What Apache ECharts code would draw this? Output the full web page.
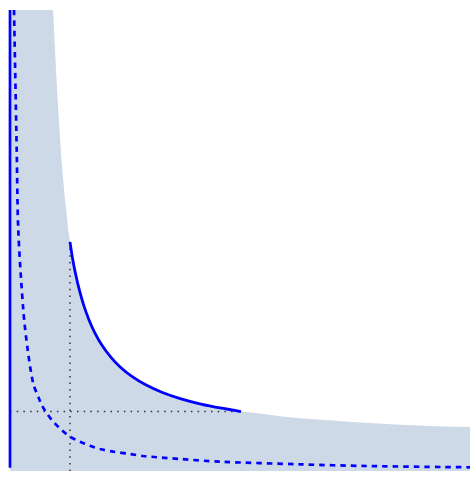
<!DOCTYPE html>
<html>
<head>
<meta charset="utf-8">
<script src="https://cdn.jsdelivr.net/npm/echarts@6/dist/echarts.min.js"></script>
<style>
  html, body { margin: 0; padding: 0; background: #fff; }
  #chart { width: 476px; height: 479px; }
</style>
</head>
<body>
<div id="chart"></div>
<script>
// upper boundary of the shaded region
const shadeX = [0, 0.935, 0.957, 0.989, 1.037, 1.080, 1.124, 1.196, 1.267, 1.304, 1.36, 1.42, 1.5, 1.6, 1.72, 1.85, 2.0, 2.2, 2.4, 2.65, 2.95, 3.3, 3.7, 4.15, 4.6, 5.022, 5.435, 5.870, 6.304, 7.609, 8.370, 9.413, 10];
const shadeY = [10, 10, 9.566, 8.915, 8.048, 7.332, 6.681, 5.879, 5.228, 4.97, 4.61, 4.30, 3.955, 3.605, 3.272, 2.987, 2.727, 2.459, 2.252, 2.052, 1.869, 1.709, 1.571, 1.453, 1.362, 1.29, 1.245, 1.185, 1.146, 1.052, 1.008, 0.965, 0.955];

// solid curve segment
const solidX = [1.304, 1.36, 1.42, 1.5, 1.6, 1.72, 1.85, 2.0, 2.2, 2.4, 2.65, 2.95, 3.3, 3.7, 4.15, 4.6, 5.022];
const solidY = [4.97, 4.61, 4.30, 3.955, 3.605, 3.272, 2.987, 2.727, 2.459, 2.252, 2.052, 1.869, 1.709, 1.571, 1.453, 1.362, 1.29];

// dashed curve
const dashX = [0.087, 0.146, 0.180, 0.289, 0.385, 0.507, 0.615, 0.689, 0.798, 0.941, 1.124, 1.304, 1.522, 1.739, 1.957, 2.246, 2.609, 2.898, 3.696, 4.565, 6.304, 7.739, 10];
const dashY = [10, 6.963, 5.228, 3.492, 2.625, 1.887, 1.612, 1.432, 1.252, 1.069, 0.889, 0.744, 0.636, 0.549, 0.477, 0.419, 0.369, 0.325, 0.260, 0.202, 0.145, 0.108, 0.080];

// dotted guide lines through the ends of the solid segment
const guideX = 1.304;
const guideTopY = 4.97;
const guideY = 1.29;
const guideRightX = 5.022;

const blue = '#0000ff';
const pairs = (xs, ys) => xs.map((x, i) => [x, ys[i]]);

const chart = echarts.init(document.getElementById('chart'));

const dotted = { color: '#333', width: 1.5, type: [1.5, 5.2] };

const option = {
  animation: false,
  backgroundColor: '#ffffff',
  grid: { left: 10, right: 6, top: 10, bottom: 8 },
  xAxis: {
    type: 'value', min: 0, max: 10,
    axisLine: { show: false }, axisTick: { show: false },
    axisLabel: { show: false }, splitLine: { show: false }
  },
  yAxis: {
    type: 'value', min: 0, max: 10,
    axisLine: { show: false }, axisTick: { show: false },
    axisLabel: { show: false }, splitLine: { show: false }
  },
  series: [
    {
      type: 'line',
      data: pairs(shadeX, shadeY),
      showSymbol: false,
      lineStyle: { width: 0 },
      areaStyle: { color: '#cdd9e6', opacity: 1, origin: 'start' },
      z: 1
    },
    {
      type: 'line',
      data: [[0, guideY], [guideRightX, guideY]],
      showSymbol: false,
      lineStyle: dotted,
      z: 2
    },
    {
      type: 'line',
      data: [[guideX, guideTopY], [guideX, 0]],
      showSymbol: false,
      lineStyle: dotted,
      z: 2
    },
    {
      type: 'line',
      data: pairs(dashX, dashY),
      showSymbol: false,
      smooth: 0.3,
      lineStyle: { color: blue, width: 2.7, type: [5.5, 5], cap: 'butt' },
      z: 3
    },
    {
      type: 'line',
      data: pairs(solidX, solidY),
      showSymbol: false,
      smooth: 0.3,
      lineStyle: { color: blue, width: 2.8 },
      z: 4
    },
    {
      type: 'line',
      data: [[0, 0.07], [0, 10]],
      showSymbol: false,
      lineStyle: { color: blue, width: 2.7 },
      z: 5
    }
  ]
};

chart.setOption(option);
</script>
</body>
</html>
